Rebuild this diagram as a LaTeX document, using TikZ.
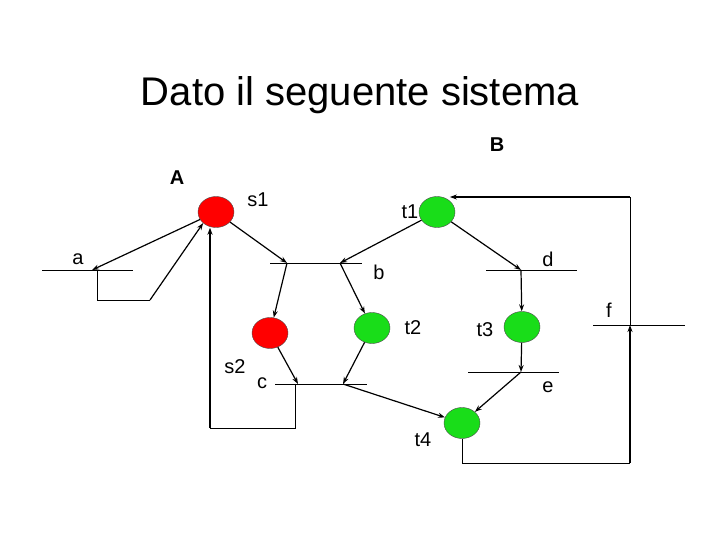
\documentclass[tikz,border=0pt]{standalone}
\usepackage{fontspec}
\setmainfont{Liberation Sans}
\usetikzlibrary{shapes.geometric,arrows.meta}
\begin{document}
\begin{tikzpicture}[x=1pt,y=-1pt,
  place/.style={ellipse,draw=black!70,minimum width=36pt,minimum height=31pt,inner sep=0pt},
  red/.style={place,fill=red},
  grn/.style={place,fill=green!85!black!90},
  bar/.style={line width=0.6pt},
  arc/.style={line width=1.2pt,-{Stealth[length=7pt,width=5pt]}},
  lnk/.style={line width=0.8pt},
  lbl/.style={font=\fontsize{20}{22}\selectfont,inner sep=0pt}]
\path[fill=white] (0,0) rectangle (720,540);
\node[font=\fontsize{40}{44}\selectfont] (title) at (360,95) {Dato il seguente sistema};
\node[lbl,font=\fontsize{20}{22}\selectfont\bfseries] (B) at (497,145) {B};
\node[lbl,font=\fontsize{20}{22}\selectfont\bfseries] (A) at (177,178) {A};
\node[red] (s1) at (216,212) {};
\node[grn] (t1) at (437,212) {};
\node[red] (s2) at (270,333) {};
\node[grn] (t2) at (372,328) {};
\node[grn] (t3) at (522,327) {};
\node[grn] (t4) at (462,423) {};
\foreach \n/\x/\y/\t in {ls1/258/200/s1,lt1/410/212/t1,la/78/259/a,lb/379/272/b,ld/548/259/d,lf/609/310/f,lt2/413/328/t2,lt3/485/330/t3,ls2/235/367/s2,lc/262/383/c,le/548/387/e,lt4/423/440/t4}
  \node[lbl] (\n) at (\x,\y) {\t};
% bars
\coordinate (a1) at (42,270); \coordinate (a2) at (133,270); \coordinate (ap) at (92,270);
\coordinate (m1) at (270,263); \coordinate (m2) at (362,263); \coordinate (bp1) at (287,263); \coordinate (bp2) at (340,263);
\coordinate (d1) at (486,270); \coordinate (d2) at (577,270); \coordinate (dp) at (521,270);
\coordinate (c1) at (275,384); \coordinate (c2) at (367,384); \coordinate (cp1) at (298,384); \coordinate (cp2) at (343,384);
\coordinate (e1) at (468,372); \coordinate (e2) at (559,372); \coordinate (ep) at (521,372);
\coordinate (f1) at (593,325); \coordinate (f2) at (685,325); \coordinate (fp) at (630,325);
\foreach \p/\q in {a1/a2,m1/m2,d1/d2,c1/c2,e1/e2,f1/f2} \draw[bar] (\p) -- (\q);
% arcs
\draw[arc] (s1) -- (ap);
\coordinate (la1) at (97,270); \coordinate (la2) at (97,300); \coordinate (la3) at (150,300);
\draw[lnk] (la1) -- (la2) -- (la3);
\draw[arc] (la3) -- (s1.south west);
\draw[arc] (s1) -- (bp1);
\draw[arc] (bp1) -- (s2);
\draw[arc] (t1) -- (bp2);
\draw[arc] (bp2) -- (t2);
\draw[arc] (t1) -- (dp);
\draw[arc] (dp) -- (t3);
\draw[arc] (s2) -- (cp1);
\draw[arc] (t2) -- (cp2);
\draw[arc] (cp2) -- (t4);
\coordinate (lc1) at (295,384); \coordinate (lc2) at (295,428); \coordinate (lc3) at (210,428);
\draw[lnk] (lc1) -- (lc2) -- (lc3);
\draw[arc] (lc3) -- (s1.south -| lc3);
\draw[arc] (t3) -- (ep);
\draw[arc] (ep) -- (t4);
\coordinate (lt1) at (462,463); \coordinate (lt2) at (630,463); \coordinate (lt3) at (630,197);
\draw[lnk] (t4.south) -- (lt1) -- (lt2);
\draw[arc] (lt2) -- (fp);
\draw[lnk] (fp) -- (lt3);
\draw[arc] (lt3) -- (t1.north east |- lt3);
\end{tikzpicture}
\end{document}
